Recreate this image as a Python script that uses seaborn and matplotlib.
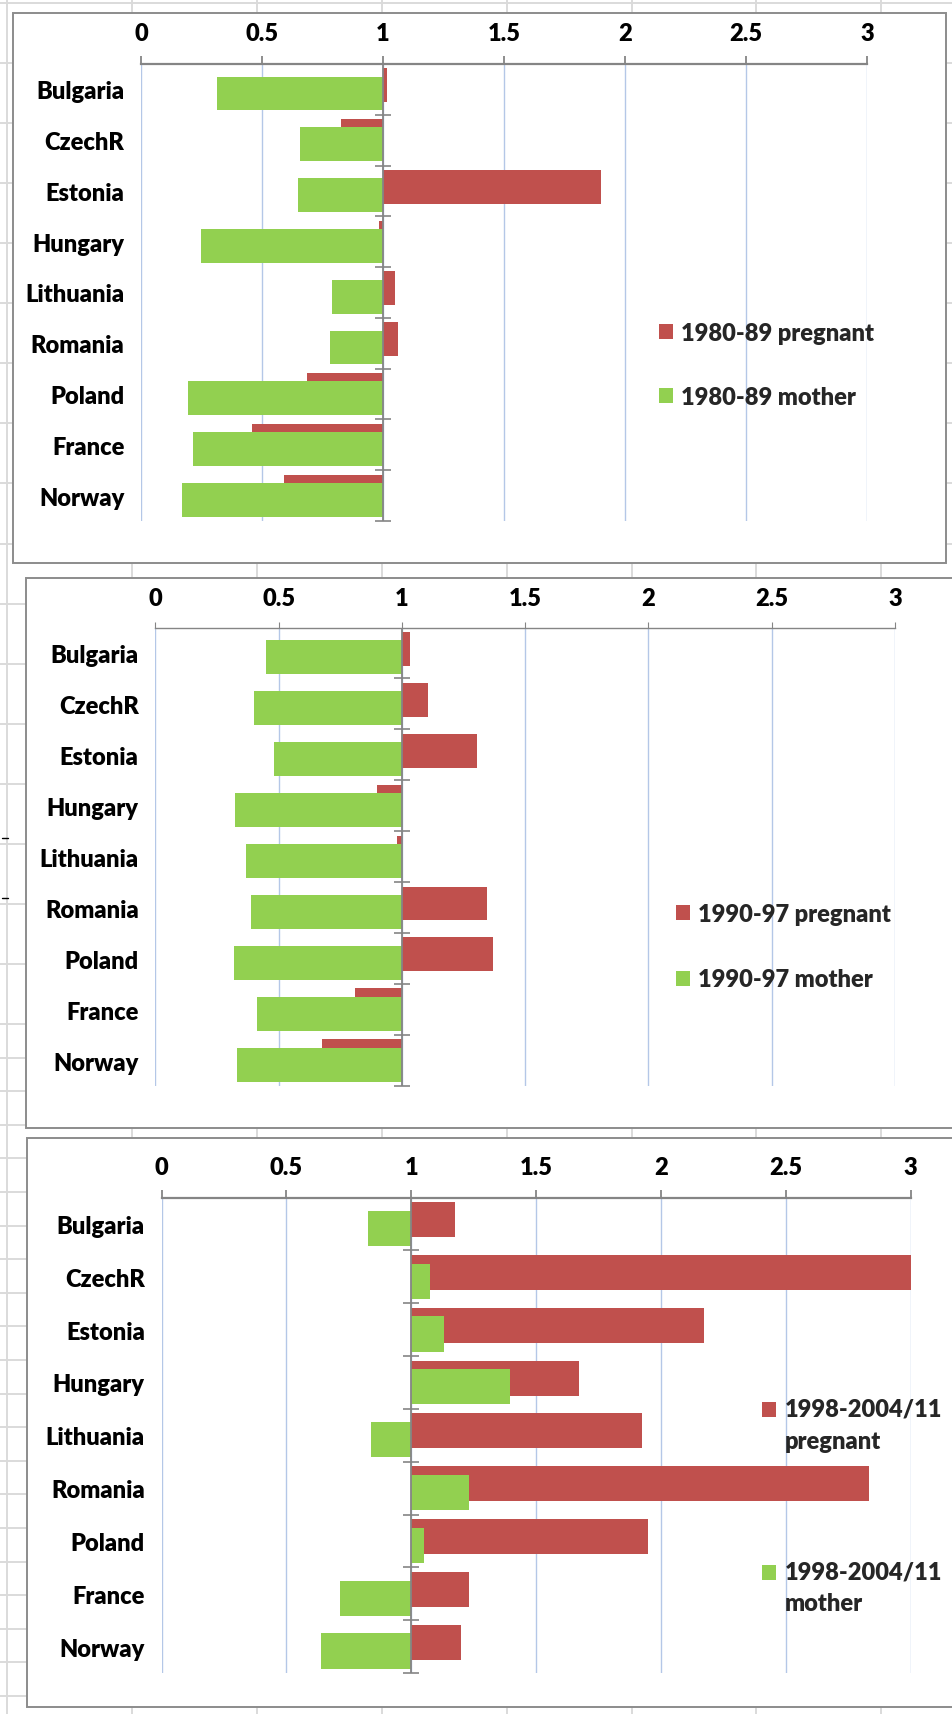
import numpy as np
import matplotlib
matplotlib.use("Agg")
import matplotlib.pyplot as plt
from matplotlib.patches import Rectangle
from matplotlib.lines import Line2D
from matplotlib.container import BarContainer
from matplotlib.legend_handler import HandlerPatch
import seaborn as sns

# ---------------- data ----------------
countries = ["Bulgaria", "CzechR", "Estonia", "Hungary", "Lithuania",
             "Romania", "Poland", "France", "Norway"]
x_ticks = [0, 0.5, 1, 1.5, 2, 2.5, 3]
x_tick_labels = ["0", "0.5", "1", "1.5", "2", "2.5", "3"]

preg_1980 = [1.015, 0.827, 1.90, 0.985, 1.05, 1.063, 0.687, 0.459, 0.589]
mother_1980 = [0.313, 0.659, 0.647, 0.248, 0.79, 0.782, 0.196, 0.216, 0.170]

preg_1990 = [1.034, 1.106, 1.303, 0.897, 0.978, 1.345, 1.369, 0.808, 0.675]
mother_1990 = [0.448, 0.399, 0.480, 0.323, 0.367, 0.387, 0.318, 0.411, 0.330]

preg_1998 = [1.175, 3.0, 2.174, 1.673, 1.924, 2.835, 1.950, 1.231, 1.199]
mother_1998 = [0.825, 1.075, 1.131, 1.394, 0.840, 1.231, 1.051, 0.713, 0.640]

labels_1980 = ["1980-89 pregnant", "1980-89 mother"]
labels_1990 = ["1990-97 pregnant", "1990-97 mother"]
labels_1998 = ["1998-2004/11\npregnant", "1998-2004/11\nmother"]

BASE = 1.0  # value axis crosses at 1

# ---------------- style ----------------
RED = "#C0504D"
GREEN = "#92D050"
AXIS_GRAY = "#858585"
GRID_BLUE = "#B4C7E7"
SHEET_GRAY = "#DADADA"
FS = 17
WEIGHT = "heavy"

sns.set_theme(style="white")
plt.rcParams["font.family"] = ["Lato", "DejaVu Sans"]
plt.rcParams["font.weight"] = "bold"

W, H = 952, 1715
fig = plt.figure(figsize=(W / 100, H / 100), dpi=100)
fig.patch.set_facecolor("white")


def fx(x):
    return x / W


def fy(y):
    return 1 - y / H


def square_handler(shift):
    """Legend square, optionally raised to sit beside the first text line."""
    def make(legend, orig_handle, xdescent, ydescent, width, height, fontsize):
        fc = orig_handle.patches[0].get_facecolor()
        return Rectangle((-xdescent, -ydescent + shift * fontsize), width, height,
                         facecolor=fc, edgecolor="none")
    return HandlerPatch(patch_func=make, update_func=lambda h, o: None)


# spreadsheet background grid
for k in range(8):
    xx = 7 + 124.9 * k
    fig.add_artist(Line2D([fx(xx), fx(xx)], [0, 1], transform=fig.transFigure,
                          color=SHEET_GRAY, lw=1.4, zorder=-5))
rows = [4.0 + 60.06 * k for k in range(18)]
yy = rows[-1]
while yy < H:
    yy += 33.6
    rows.append(yy)
for yy in rows:
    fig.add_artist(Line2D([0, 1], [fy(yy), fy(yy)], transform=fig.transFigure,
                          color=SHEET_GRAY, lw=1.4, zorder=-5))
for yy in (839, 899):
    fig.add_artist(Line2D([fx(2), fx(8)], [fy(yy), fy(yy)], transform=fig.transFigure,
                          color="black", lw=1.0, zorder=-5))

panels = [
    dict(frame=(13, 14, 946, 564), area=(141, 65, 867, 522),
         preg=preg_1980, mother=mother_1980, labels=labels_1980,
         leg=(659, 366), lspace=1.8, dotted=False, shift=0.0, lsp=1.2),
    dict(frame=(25.5, 579, 965, 1129), area=(155.4, 628.5, 895, 1087),
         preg=preg_1990, mother=mother_1990, labels=labels_1990,
         leg=(676, 947.5), lspace=1.85, dotted=True, shift=0.0, lsp=1.2),
    dict(frame=(27, 1139, 965, 1708), area=(161.5, 1198.6, 910.7, 1674),
         preg=preg_1998, mother=mother_1998, labels=labels_1998,
         leg=(762, 1507), lspace=4.6, dotted=False, shift=0.66, lsp=1.55),
]

pos = np.arange(len(countries))
off = 0.083
bar_h = 0.665

for p in panels:
    x0, y0, x1, y1 = p["frame"]
    fig.add_artist(Rectangle((fx(x0), fy(y1)), fx(x1) - fx(x0), fy(y0) - fy(y1),
                             transform=fig.transFigure, facecolor="white",
                             edgecolor="#8C8C8C", lw=1.4, zorder=-4))
    l, t, r, b = p["area"]
    ax = fig.add_axes([fx(l), fy(b), fx(r) - fx(l), fy(t) - fy(b)])
    ax.patch.set_alpha(0)

    sns.barplot(x=np.array(p["preg"]) - BASE, y=pos - off, orient="y",
                native_scale=True, left=BASE, width=bar_h, color=RED,
                saturation=1, errorbar=None, linewidth=0, ax=ax,
                label=p["labels"][0])
    sns.barplot(x=np.array(p["mother"]) - BASE, y=pos + off, orient="y",
                native_scale=True, left=BASE, width=bar_h, color=GREEN,
                saturation=1, errorbar=None, linewidth=0, ax=ax,
                label=p["labels"][1])

    ax.set_xlim(0, 3)
    ax.set_ylim(len(countries) - 0.5, -0.5)
    ax.set_xlabel("")
    ax.set_ylabel("")

    ax.xaxis.tick_top()
    ax.set_xticks(x_ticks)
    ax.set_xticklabels(x_tick_labels, fontsize=FS, fontweight=WEIGHT, color="black")
    ax.tick_params(axis="x", which="both", direction="out", length=5.8, width=1.3,
                   color=AXIS_GRAY, pad=8.5, top=True, bottom=False,
                   labeltop=True, labelbottom=False)
    ax.set_yticks(pos)
    ax.set_yticklabels(countries, fontsize=FS, fontweight=WEIGHT, color="black")
    ax.tick_params(axis="y", length=0, pad=12, left=False)

    for s in ("left", "right", "bottom"):
        ax.spines[s].set_visible(False)
    ax.spines["top"].set_color(AXIS_GRAY)
    if p["dotted"]:
        ax.spines["top"].set_linestyle((0, (1, 1)))
        ax.spines["top"].set_linewidth(1.0)
        ax.tick_params(axis="x", width=0.8, length=4.5)
    else:
        ax.spines["top"].set_linewidth(1.6)

    ax.grid(axis="x", color=GRID_BLUE, lw=1.0)
    ax.grid(axis="y", visible=False)
    ax.set_axisbelow(True)

    # category axis drawn at value 1 with cross tick marks between categories
    ax.axvline(BASE, color=AXIS_GRAY, lw=1.3, zorder=4)
    ax.plot(np.full(len(countries), BASE), pos + 0.5, ls="none", marker="_",
            ms=11.5, mew=1.2, color=AXIS_GRAY, zorder=4, clip_on=False)

    lx, ly = p["leg"]
    leg = ax.legend(loc="center left", bbox_to_anchor=(fx(lx), fy(ly)),
                    bbox_transform=fig.transFigure, frameon=False, borderpad=0,
                    borderaxespad=0, handlelength=0.6, handleheight=0.6,
                    handletextpad=0.35, labelspacing=p["lspace"],
                    handler_map={BarContainer: square_handler(p["shift"])},
                    prop=dict(size=FS, weight=WEIGHT))
    for txt in leg.get_texts():
        txt.set_linespacing(p["lsp"])

fig.savefig("out.png", dpi=100, facecolor="white")
